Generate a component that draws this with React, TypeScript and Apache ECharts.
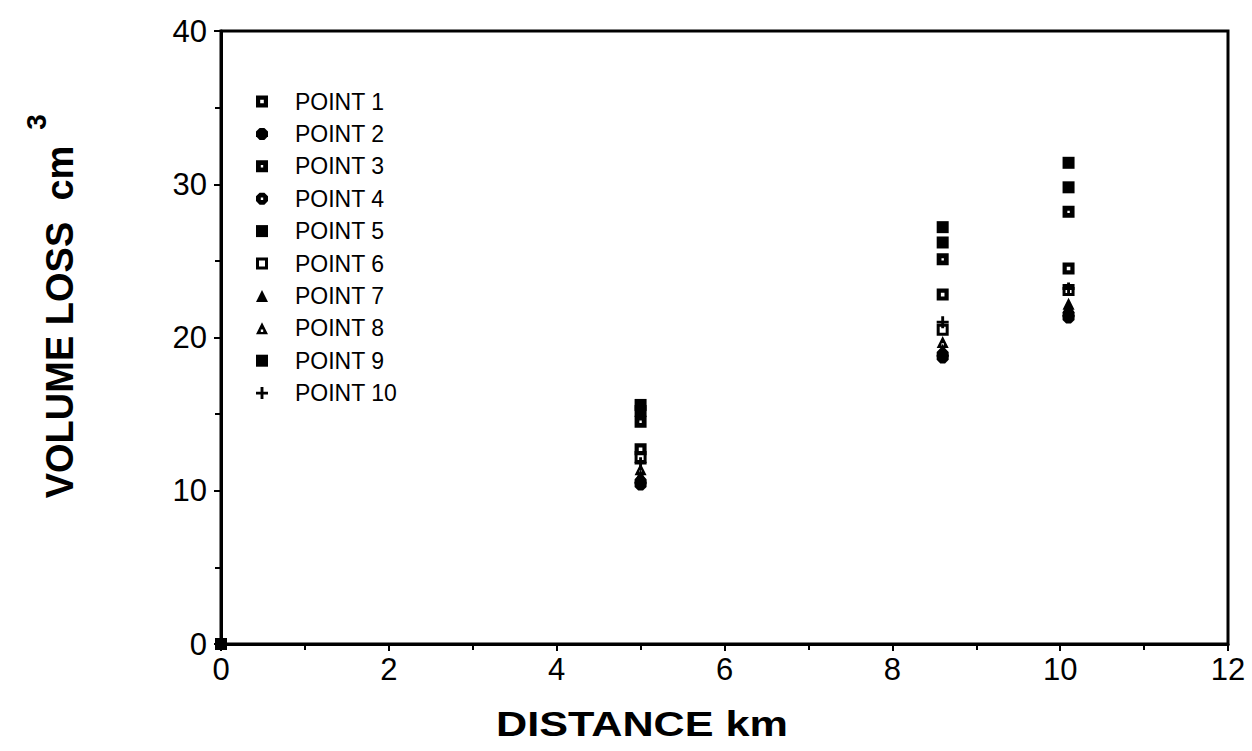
import React, { useEffect, useRef } from "react";
import * as echarts from "echarts";

const distances = [0, 5, 8.6, 10.1];
const seriesNames = ["POINT 1", "POINT 2", "POINT 3", "POINT 4", "POINT 5", "POINT 6", "POINT 7", "POINT 8", "POINT 9", "POINT 10"];
const point1 = [0, 12.7, 22.8, 24.5];
const point2 = [0, 10.4, 18.7, 21.3];
const point3 = [0, 14.5, 25.1, 28.2];
const point4 = [0, 10.6, 18.9, 21.5];
const point5 = [0, 15.2, 26.2, 29.8];
const point6 = [0, 12.2, 20.5, 23.1];
const point7 = [0, 11.0, 19.2, 22.0];
const point8 = [0, 11.4, 19.7, 22.2];
const point9 = [0, 15.6, 27.2, 31.4];
const point10 = [0, 11.8, 21.0, 23.2];
const xTicks = [0, 2, 4, 6, 8, 10, 12];
const yTicks = [0, 10, 20, 30, 40];

const SQ_DOT = "path://M0,0H10V10H0Z M3.5,3.5V6.5H6.5V3.5Z";
const SQ_TINY = "path://M0,0H10V10H0Z M4,4V6H6V4Z";
const SQ_HOLLOW = "path://M0,0H10V10H0Z M2.5,2.5V7.5H7.5V2.5Z";
const SQ = "path://M0,0H10V10H0Z";
const OCT = "path://M3,0H7L10,3V7L7,10H3L0,7V3Z";
const OCT_DOT = "path://M3,0H7L10,3V7L7,10H3L0,7V3Z M4,4V6H6V4Z";
const TRI = "path://M5,0L10,10H0Z";
const TRI_DOT = "path://M5,0L10,10H0Z M4,6V8H6V6Z";
const PLUS = "path://M3.8,0H6.2V3.8H10V6.2H6.2V10H3.8V6.2H0V3.8H3.8Z";

const symbols = [SQ_DOT, OCT, SQ_TINY, OCT_DOT, SQ, SQ_HOLLOW, TRI, TRI_DOT, SQ, PLUS];
const values = [point1, point2, point3, point4, point5, point6, point7, point8, point9, point10];

export default function App() {
  const ref = useRef<HTMLDivElement>(null);
  useEffect(() => {
    const chart = echarts.init(ref.current!, null, { renderer: "svg" });
    const font = "'Liberation Sans', Arial, sans-serif";
    chart.setOption({
      animation: false,
      backgroundColor: "#fff",
      grid: { left: 221, top: 31, right: 24, bottom: 107, show: true, borderColor: "#000", borderWidth: 3 },
      legend: {
        orient: "vertical",
        left: 251,
        top: 85,
        itemWidth: 12,
        itemHeight: 12,
        itemGap: 9.4,
        textStyle: { fontFamily: font, fontSize: 23, color: "#000", padding: [0, 0, 0, 22] },
        data: seriesNames.map((n, i) => ({ name: n, icon: symbols[i], itemStyle: { color: "#000", opacity: 1 } })),
      },
      xAxis: {
        type: "value",
        min: 0,
        max: 12,
        interval: 2,
        axisLine: { lineStyle: { color: "#000", width: 3 } },
        axisTick: { show: true, length: 7, lineStyle: { color: "#000", width: 2 } },
        minorTick: { show: true, splitNumber: 2, length: 6, lineStyle: { color: "#000", width: 2 } },
        splitLine: { show: false },
        axisLabel: { fontFamily: font, fontSize: 31, color: "#000", margin: 10, formatter: (v: number) => (xTicks.includes(v) ? String(v) : "") },
      },
      yAxis: {
        type: "value",
        min: 0,
        max: 40,
        interval: 10,
        axisLine: { show: true, lineStyle: { color: "#000", width: 3 } },
        axisTick: { show: true, length: 7, lineStyle: { color: "#000", width: 2 } },
        minorTick: { show: true, splitNumber: 2, length: 6, lineStyle: { color: "#000", width: 2 } },
        splitLine: { show: false },
        axisLabel: { fontFamily: font, fontSize: 31, color: "#000", margin: 14, formatter: (v: number) => (yTicks.includes(v) ? String(v) : "") },
      },
      graphic: [
        {
          type: "text",
          x: 642,
          y: 723,
          scaleX: 1.2,
          style: { text: "DISTANCE km", fontFamily: font, fontWeight: "bold", fontSize: 36, fill: "#000", textAlign: "center", textVerticalAlign: "middle" },
        },
        {
          type: "text",
          x: 60,
          y: 322,
          rotation: Math.PI / 2,
          style: { text: "VOLUME LOSS  cm", fontFamily: font, fontWeight: "bold", fontSize: 38, fill: "#000", textAlign: "center", textVerticalAlign: "middle" },
        },
        {
          type: "text",
          x: 36,
          y: 122,
          rotation: Math.PI / 2,
          style: { text: "3", fontFamily: font, fontWeight: "bold", fontSize: 28, fill: "#000", textAlign: "center", textVerticalAlign: "middle" },
        },
      ],
      series: seriesNames.map((n, i) => ({
        name: n,
        type: "scatter",
        symbol: symbols[i],
        symbolSize: 12,
        itemStyle: { color: "#000", opacity: 1 },
        data: distances.map((d, j) => [d, values[i][j]]),
      })),
    });
    return () => chart.dispose();
  }, []);
  return <div ref={ref} style={{ position: "absolute", left: 0, top: 0, width: 1252, height: 751 }} />;
}
